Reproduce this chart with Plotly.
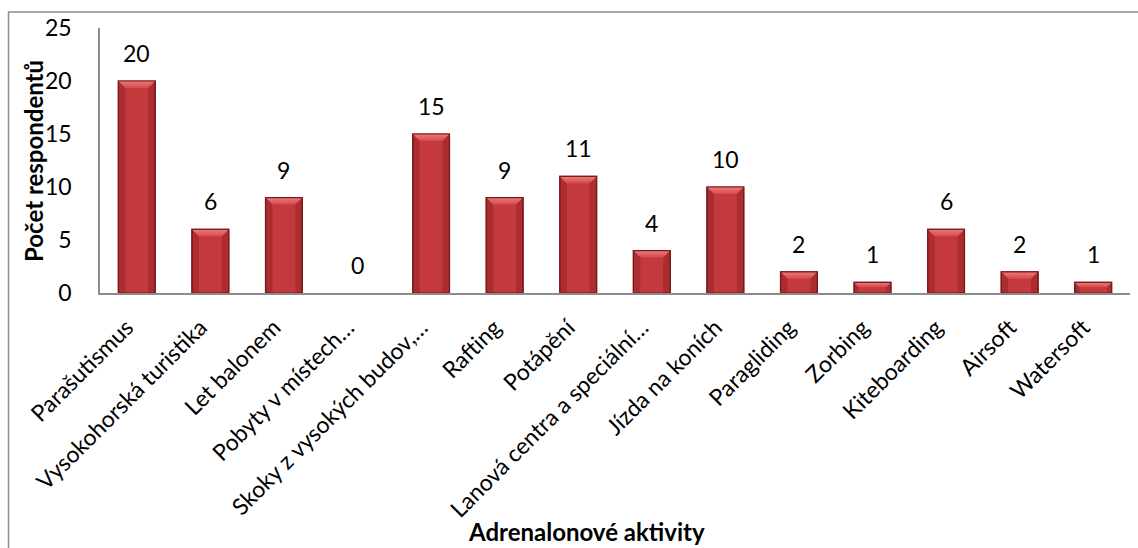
import plotly.graph_objects as go

# Survey results: adrenaline activities and number of respondents
categories = [
    "Parašutismus", "Vysokohorská turistika", "Let balonem", "Pobyty v místech…",
    "Skoky z vysokých budov,…", "Rafting", "Potápění", "Lanová centra a speciální…",
    "Jízda na koních", "Paragliding", "Zorbing", "Kiteboarding", "Airsoft", "Watersoft",
]
respondents = [20, 6, 9, 0, 15, 9, 11, 4, 10, 2, 1, 6, 2, 1]

y_ticks = [0, 5, 10, 15, 20, 25]

FONT = "Lato"
BAR_W = 0.5

# Plot-area geometry in pixels (used for margins and the frame around the chart)
W, H = 1138, 548
L, R, T, B = 100, 1130, 28, 293

xs = list(range(len(categories)))

px_per_x = (R - L) / len(categories)
px_per_y = (B - T) / 25.0

fig = go.Figure()

# Main bar bodies (no outline on empty bars)
fig.add_trace(go.Bar(
    x=xs, y=respondents, width=BAR_W,
    marker=dict(
        color="#C43A3C",
        line=dict(color="#7A1A1C", width=[1.2 if v > 0 else 0 for v in respondents]),
    ),
    hoverinfo="x+y", showlegend=False,
))

# Bevel shading: darker side strips and a light top facet for each bar
dx = 7 / px_per_x
for x, v in zip(xs, respondents):
    if v <= 0:
        continue
    x0, x1 = x - BAR_W / 2, x + BAR_W / 2
    h = min(7 / px_per_y, v * 0.45)
    d = min(dx, h * px_per_y / px_per_x)
    # left / right edge strips
    for xa, xb in ((x0, x0 + d), (x1 - d, x1)):
        fig.add_trace(go.Scatter(
            x=[xa, xb, xb, xa, xa], y=[0, 0, v, v, 0],
            mode="lines", fill="toself", fillcolor="rgba(120,20,22,0.32)",
            line=dict(width=0), hoverinfo="skip", showlegend=False,
        ))
    # top facet
    fig.add_trace(go.Scatter(
        x=[x0, x1, x1 - d, x0 + d, x0], y=[v, v, v - h, v - h, v],
        mode="lines", fill="toself",
        fillgradient=dict(type="vertical", colorscale=[[0, "#D24A4C"], [1, "#F07A7A"]]),
        line=dict(width=0), hoverinfo="skip", showlegend=False,
    ))
    # dark outline drawn on top again
    fig.add_trace(go.Scatter(
        x=[x0, x0, x1, x1], y=[0, v, v, 0],
        mode="lines", line=dict(color="#7A1A1C", width=1.2),
        hoverinfo="skip", showlegend=False,
    ))

# Value labels above the bars
for x, v in zip(xs, respondents):
    fig.add_annotation(
        x=x, y=v, text=str(v), showarrow=False, yanchor="bottom", yshift=12,
        font=dict(family=FONT, size=23, color="#000000"),
    )


def px_x(p):
    return (p - L) / (R - L)


def px_y(p):
    return (B - p) / (B - T)


# Chart frame (top and left edges)
fig.add_shape(type="line", xref="paper", yref="paper",
              x0=px_x(8), x1=px_x(1140), y0=px_y(12), y1=px_y(12),
              line=dict(color="#8C8C8C", width=1.5))
fig.add_shape(type="line", xref="paper", yref="paper",
              x0=px_x(8.5), x1=px_x(8.5), y0=px_y(12), y1=px_y(560),
              line=dict(color="#8C8C8C", width=1.5))

# Axis titles
fig.add_annotation(
    xref="paper", yref="paper", x=px_x(586), y=px_y(531),
    text="<b>Adrenalonové aktivity</b>", showarrow=False,
    font=dict(family=FONT, size=24, color="#000000"),
    xanchor="center", yanchor="middle",
)
fig.add_annotation(
    xref="paper", yref="paper", x=px_x(33), y=px_y(161),
    text="<b>Počet respondentů</b>", showarrow=False, textangle=-90,
    font=dict(family=FONT, size=24, color="#000000"),
    xanchor="center", yanchor="middle",
)

# Category labels sit slightly left of the bar centres
label_offset = 10 / px_per_x

fig.update_layout(
    width=W, height=H,
    margin=dict(l=L, r=W - R, t=T, b=H - B),
    paper_bgcolor="white", plot_bgcolor="white",
    bargap=0.5,
    xaxis=dict(
        range=[-0.5, len(categories) - 0.5],
        tickvals=[x - label_offset for x in xs], ticktext=categories, tickangle=-45,
        tickfont=dict(family=FONT, size=23, color="#000000"),
        showgrid=False, zeroline=False, showline=True,
        linecolor="#8C8C8C", linewidth=2, ticks="",
        ticklabelstandoff=10,
    ),
    yaxis=dict(
        range=[0, 25], tickvals=y_ticks,
        tickfont=dict(family=FONT, size=23, color="#000000"),
        showgrid=False, zeroline=False, showline=True,
        linecolor="#8C8C8C", linewidth=1.5, ticks="",
        ticklabelstandoff=22,
    ),
)

fig.write_html("out.html")
